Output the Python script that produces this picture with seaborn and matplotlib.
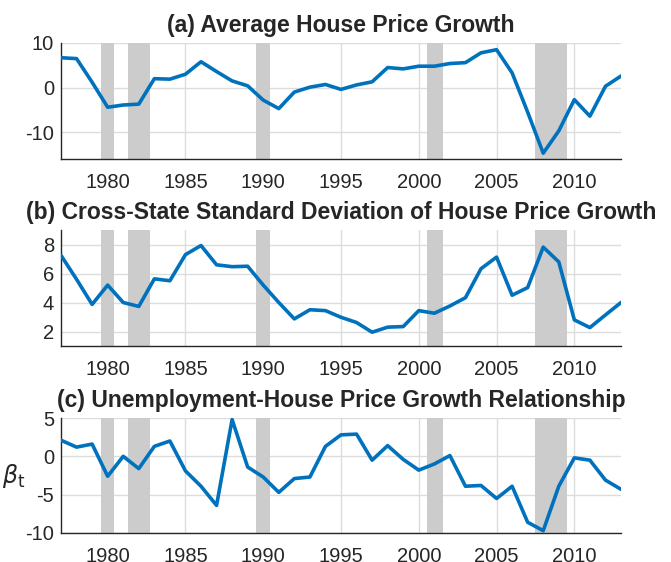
import numpy as np
import pandas as pd
import seaborn as sns
import matplotlib.pyplot as plt

years = list(range(1977, 2014))

avg_growth = [6.7, 6.5, 1.2, -4.4, -3.9, -3.7, 2.0, 1.9, 3.0, 5.8,
              3.6, 1.5, 0.4, -2.8, -4.7, -1.0, 0.1, 0.7, -0.4, 0.6,
              1.3, 4.5, 4.2, 4.8, 4.8, 5.4, 5.6, 7.8, 8.5, 3.3,
              -5.5, -14.7, -9.7, -2.7, -6.4, 0.3, 2.6]

sd_growth = [7.25, 5.6, 3.87, 5.2, 4.0, 3.73, 5.63, 5.5, 7.3, 7.93,
             6.6, 6.47, 6.5, 5.2, 4.0, 2.87, 3.5, 3.44, 2.98, 2.62,
             1.95, 2.3, 2.34, 3.44, 3.26, 3.76, 4.33, 6.33, 7.13, 4.5,
             5.03, 7.82, 6.8, 2.8, 2.27, 3.14, 4.0]

beta_t = [2.1, 1.2, 1.6, -2.6, 0.0, -1.6, 1.3, 2.0, -1.9, -3.9,
          -6.4, 4.8, -1.4, -2.7, -4.7, -2.9, -2.7, 1.3, 2.8, 2.9,
          -0.5, 1.4, -0.4, -1.8, -1.0, 0.1, -3.9, -3.8, -5.5, -3.9,
          -8.6, -9.7, -3.9, -0.2, -0.5, -3.1, -4.3]

recession_start = [1979.6, 1981.3, 1989.55, 2000.5, 2007.5]
recession_end = [1980.4, 1982.7, 1990.45, 2001.55, 2009.5]

titles = ["(a) Average House Price Growth",
          "(b) Cross-State Standard Deviation of House Price Growth",
          "(c) Unemployment-House Price Growth Relationship"]
ylims = [(-16, 10), (1, 9), (-10, 5)]
yticks = [[-10, 0, 10], [2, 4, 6, 8], [-10, -5, 0, 5]]
xticks = [1980, 1985, 1990, 1995, 2000, 2005, 2010]

df = pd.DataFrame({"year": years, "avg": avg_growth, "sd": sd_growth, "beta": beta_t})

sns.set_style("white")
plt.rcParams['font.family'] = ['Liberation Sans', 'DejaVu Sans']
plt.rcParams['mathtext.fontset'] = 'dejavusans'
plt.rcParams['axes.unicode_minus'] = False

fig = plt.figure(figsize=(6.71, 5.62), dpi=100)
W, H = 671, 562
# axes boxes in pixels: (left, top, right, bottom)
boxes = [(61, 43, 621, 159), (61, 230, 621, 346), (61, 418, 621, 533)]
cols = ["avg", "sd", "beta"]

for i, (l, t, r, b) in enumerate(boxes):
    ax = fig.add_axes([l / W, 1 - b / H, (r - l) / W, (b - t) / H])
    ax.set_xlim(1977, 2013)
    ax.set_ylim(*ylims[i])
    ax.set_xticks(xticks)
    ax.set_yticks(yticks[i])
    ax.grid(True, color="#dcdcdc", lw=1.0)
    ax.set_axisbelow(True)
    for s, e in zip(recession_start, recession_end):
        ax.axvspan(s, e, color="#cccccc", lw=0, zorder=1.5)
    sns.lineplot(data=df, x="year", y=cols[i], ax=ax, color="#0072BD",
                 lw=2.6, zorder=3)
    ax.set_xlabel("")
    ax.set_ylabel("")
    for sp in ["top", "right"]:
        ax.spines[sp].set_visible(False)
    for sp in ["left", "bottom"]:
        ax.spines[sp].set_color("#262626")
        ax.spines[sp].set_linewidth(1.0)
    ax.tick_params(direction="in", length=4, width=1.0, color="#262626",
                   labelsize=14.5, labelcolor="#262626")
    ax.tick_params(axis="x", pad=10)
    ax.tick_params(axis="y", pad=5)
    ax.set_title(titles[i], fontsize=16.5, fontweight="bold", pad=8)
    if i == 2:
        ax.set_ylabel(r"$\beta_{\mathrm{t}}$", rotation=0, fontsize=17,
                      color="#262626", labelpad=8, va="center")

fig.savefig("out.png", dpi=100)
